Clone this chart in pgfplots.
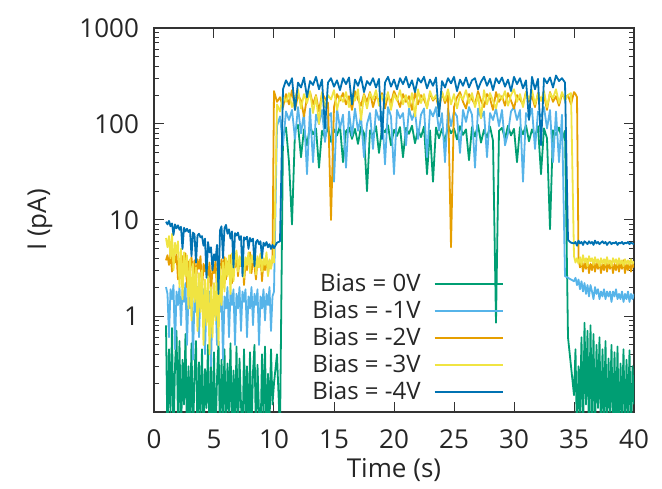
\documentclass[border=0pt]{standalone}
\usepackage{fontspec}
\setmainfont{Open Sans}
\usepackage{pgfplots}
\usepackage{pgfplotstable}
\pgfplotsset{compat=1.18}

\definecolor{c0}{HTML}{009E73}
\definecolor{c1}{HTML}{56B4E9}
\definecolor{c2}{HTML}{E69F00}
\definecolor{c3}{HTML}{F0E442}
\definecolor{c4}{HTML}{0072B2}

% t, then current for bias 0V, -1V, -2V, -3V, -4V
\pgfplotstableread{
t s0 s1 s2 s3 s4
1.000 0.80 2.0 3.8 6.5 9.6
1.125 0.05 1.7 4.3 5.2 9.0
1.250 0.45 0.6 3.4 6.8 9.8
1.375 0.10 1.9 4.6 4.0 8.6
1.500 0.75 1.5 2.9 7.2 9.2
1.625 0.05 2.1 4.0 3.0 7.0
1.750 0.30 0.45 3.6 5.8 9.0
1.875 0.70 1.8 4.4 4.5 8.2
2.000 0.08 1.3 2.4 6.0 8.8
2.125 0.55 2.0 3.9 2.0 7.9
2.250 0.05 0.8 3.2 5.0 8.5
2.375 0.35 1.9 4.2 1.5 5.0
2.500 0.12 1.4 3.0 4.6 8.3
2.625 0.65 2.2 4.5 2.6 7.6
2.750 0.05 0.5 2.0 4.3 8.1
2.875 0.30 1.7 3.7 1.2 7.5
3.000 0.07 1.2 3.3 3.9 7.9
3.125 0.52 1.9 4.1 0.9 4.2
3.250 0.05 0.35 2.7 3.5 7.4
3.375 0.25 1.6 3.8 1.4 7.1
3.500 0.55 1.1 2.2 3.2 3.6
3.625 0.05 2.0 3.9 0.7 6.9
3.750 0.33 0.6 3.1 2.8 7.2
3.875 0.09 1.8 4.2 1.1 6.6
4.000 0.45 1.3 1.8 3.0 6.8
4.125 0.05 1.9 3.5 0.5 5.4
4.250 0.28 0.4 2.9 2.4 6.4
4.375 0.11 1.5 3.8 0.8 2.5
4.500 0.50 1.1 2.5 2.6 5.9
4.625 0.05 1.8 3.6 0.4 4.6
4.750 0.30 0.3 1.6 2.0 5.2
4.875 0.06 1.4 3.3 0.6 3.0
5.000 0.42 1.0 2.8 2.2 4.4
5.125 0.05 1.7 3.7 0.9 3.8
5.250 0.22 0.5 1.9 2.9 5.5
5.375 0.55 1.5 3.4 0.5 1.7
5.500 0.05 1.1 2.6 3.3 7.8
5.625 0.35 1.9 3.9 1.3 8.6
5.750 0.08 0.35 3.1 3.6 4.0
5.875 0.45 1.6 4.1 1.8 8.2
6.000 0.05 1.2 2.4 4.0 8.9
6.125 0.32 2.0 3.7 2.6 7.2
6.250 0.10 0.6 3.0 4.3 8.0
6.375 0.52 1.8 4.3 1.7 6.4
6.500 0.05 1.3 2.2 4.5 7.6
6.625 0.27 1.9 3.8 2.3 3.2
6.750 0.07 0.5 3.2 3.8 7.3
6.875 0.48 1.7 4.4 4.8 6.9
7.000 0.05 1.2 2.6 2.9 7.4
7.125 0.36 2.0 3.9 4.2 6.2
7.250 0.12 0.7 3.3 3.3 6.8
7.375 0.05 1.8 4.5 4.9 2.6
7.500 0.45 1.4 2.1 2.5 6.6
7.625 0.09 1.9 3.6 4.1 6.3
7.750 0.30 0.6 3.0 3.4 6.7
7.875 0.05 1.6 4.2 4.6 5.0
8.000 0.42 1.2 4.6 2.8 6.5
8.125 0.06 2.0 2.8 4.3 6.0
8.250 0.26 0.8 3.9 3.6 6.4
8.375 0.50 1.7 3.3 5.0 3.3
8.500 0.05 1.3 2.4 2.7 5.9
8.625 0.31 1.9 4.0 4.2 6.2
8.750 0.10 0.5 3.4 3.2 5.6
8.875 0.05 1.6 4.3 4.5 6.0
9.000 0.40 1.2 2.3 2.9 4.0
9.125 0.08 1.9 3.7 4.0 5.8
9.250 0.48 0.9 3.0 3.4 5.4
9.375 0.05 1.7 4.1 4.6 5.9
9.500 0.25 1.3 2.7 2.6 5.2
9.625 0.07 2.0 3.8 3.9 5.6
9.750 0.45 0.7 3.2 3.1 5.0
9.875 0.12 1.6 4.0 4.2 5.5
10.000 0.20 1.8 220 3.6 5.1
10.25 0.40 95 170 160 5.8
10.50 0.06 120 190 135 6.0
10.75 75 60 150 200 230
11.00 92 135 205 170 285
11.25 40 110 160 210 250
11.50 9 140 225 150 300
11.75 85 70 140 190 140
12.00 98 150 200 230 270
12.25 45 80 175 145 240
12.50 88 130 120 205 305
12.75 60 30 190 165 190
13.00 95 145 215 220 280
13.25 78 40 160 130 255
13.50 90 125 200 195 310
13.75 35 100 135 100 230
14.00 85 140 210 215 290
14.25 72 65 185 150 90
14.50 93 120 165 200 270
14.75 65 130 10 180 300
15.00 88 25 150 225 245
15.25 76 145 205 140 285
15.50 96 90 175 195 225
15.75 40 125 210 170 300
16.00 84 35 160 215 260
16.25 92 135 195 150 305
16.50 70 75 140 205 160
16.75 89 145 220 175 290
17.00 62 85 180 230 250
17.25 94 120 155 110 310
17.50 80 45 205 200 215
17.75 20 100 170 145 280
18.00 86 130 215 210 255
18.25 74 55 150 180 300
18.50 95 140 195 225 240
18.75 50 110 175 155 295
19.00 90 135 210 200 70
19.25 82 38 145 170 270
19.50 97 150 200 215 310
19.75 60 120 165 140 245
20.00 87 30 220 205 290
20.25 75 140 185 175 230
20.50 93 115 150 225 300
20.75 45 130 205 160 260
21.00 91 60 170 200 310
21.25 79 145 195 150 240
21.50 96 110 140 210 285
21.75 63 135 215 120 215
22.00 88 70 160 230 300
22.25 73 125 200 165 270
22.50 94 145 180 205 310
22.75 30 45 150 145 235
23.00 86 140 210 220 290
23.25 25 120 175 180 250
23.50 92 150 195 200 305
23.75 71 85 140 155 120
24.00 89 130 215 215 280
24.25 65 40 165 175 240
24.50 97 145 200 230 300
24.75 80 95 5.2 160 265
25.00 90 135 150 205 310
25.25 69 120 190 145 220
25.50 95 50 215 200 290
25.75 77 140 170 180 250
26.00 88 105 145 225 305
26.25 42 150 205 165 240
26.50 93 125 180 210 285
26.75 74 35 160 150 300
27.00 98 145 220 200 230
27.25 64 115 175 115 275
27.50 87 135 150 225 310
27.75 72 45 205 160 250
28.00 94 130 185 210 295
28.25 67 110 140 175 225
28.50 0.85 145 215 145 300
28.75 85 95 170 205 265
29.00 91 140 195 180 305
29.25 70 60 155 220 245
29.50 96 80 210 155 290
29.75 76 135 175 200 220
30.00 89 150 145 230 310
30.25 40 110 200 170 260
30.50 93 140 180 205 300
30.75 78 25 160 150 235
31.00 97 130 215 215 285
31.25 66 115 170 180 110
31.50 88 145 195 225 310
31.75 74 55 150 160 230
32.00 95 135 210 205 295
32.25 30 120 175 175 60
32.50 90 150 200 220 300
32.75 71 90 140 150 265
33.00 8 140 215 210 305
33.25 86 40 170 185 240
33.50 77 135 195 230 320
33.75 92 40 155 165 280
34.00 68 125 205 215 300
34.25 85 2.6 185 175 270
34.50 0.6 2.5 200 200 6.2
34.75 0.3 2.4 160 210 5.8
35.000 0.15 2.3 215 4.2 5.7
35.125 0.45 2.5 205 3.6 5.9
35.250 0.05 2.1 190 4.0 5.4
35.375 0.30 2.4 4.0 3.5 6.1
35.500 0.10 1.9 3.2 4.1 5.7
35.625 0.60 2.3 3.8 3.4 5.9
35.750 0.05 1.8 2.9 4.3 5.5
35.875 0.85 2.2 3.6 3.6 6.0
36.000 0.12 1.7 3.1 4.0 5.8
36.125 0.70 2.1 3.9 3.3 5.6
36.250 0.05 1.6 2.8 4.2 6.0
36.375 0.80 2.1 3.5 3.7 5.7
36.500 0.08 1.8 3.0 4.0 5.9
36.625 0.65 1.5 3.8 3.4 5.5
36.750 0.05 2.0 2.9 4.1 6.1
36.875 0.50 1.7 3.6 3.6 5.7
37.000 0.11 1.9 3.1 3.9 5.9
37.125 0.60 1.5 3.7 3.3 5.6
37.250 0.05 1.8 2.8 4.0 5.8
37.375 0.45 1.6 3.5 3.5 6.0
37.500 0.07 1.9 3.0 3.9 5.7
37.625 0.55 1.5 3.8 3.4 5.9
37.750 0.05 1.8 2.9 4.1 5.5
37.875 0.36 1.6 3.6 3.5 5.8
38.000 0.10 1.8 3.1 3.8 5.9
38.125 0.50 1.4 3.7 3.3 5.6
38.250 0.05 1.8 2.8 4.0 5.8
38.375 0.42 1.6 3.5 3.6 5.7
38.500 0.06 1.9 3.0 3.9 5.9
38.625 0.48 1.5 3.7 3.4 5.5
38.750 0.05 1.7 2.9 4.0 5.8
38.875 0.32 1.5 3.6 3.5 5.7
39.000 0.09 1.8 3.1 3.8 5.9
39.125 0.45 1.4 3.8 3.3 5.6
39.250 0.05 1.7 2.8 3.9 5.8
39.375 0.35 1.5 3.5 3.5 5.7
39.500 0.08 1.8 3.0 3.8 5.9
39.625 0.44 1.4 3.7 3.4 5.6
39.750 0.05 1.7 2.9 3.9 5.8
39.875 0.30 1.5 3.5 3.5 5.7
40.000 0.12 1.7 3.2 3.7 5.6
}\data

\begin{document}
\begin{tikzpicture}
\path[use as bounding box] (-77pt,-38pt) rectangle (254pt,206pt);
\begin{axis}[
  at={(0,0)}, anchor=south west,
  scale only axis, width=240pt, height=192pt,
  xmin=0, xmax=40,
  ymode=log, ymin=0.1, ymax=1000,
  xtick={0,5,...,40},
  ytick={1,10,100,1000},
  yticklabels={1,10,100,1000},
  minor ytick={0.2,0.3,0.4,0.5,0.6,0.7,0.8,0.9,2,3,4,5,6,7,8,9,20,30,40,50,60,70,80,90,200,300,400,500,600,700,800,900},
  tick align=inside,
  major tick length=5pt, minor tick length=2.5pt,
  tick style={black!80, line width=0.5pt},
  axis line style={black!80, line width=0.7pt},
  /pgf/number format/assume math mode=true,
  tick label style={font=\fontsize{13}{15}\selectfont, text=black!85},
  yticklabel style={xshift=-4pt},
  xticklabel style={yshift=-5.5pt},
  xlabel={Time (s)}, ylabel={I (pA)},
  label style={font=\fontsize{13}{15}\selectfont, text=black!85},
  x label style={at={(axis description cs:0.5,-0.151)}, anchor=center},
  y label style={at={(axis description cs:-0.2375,0.5)}, anchor=center},
  legend cell align=right,
  legend plot pos=right,
  legend image code/.code={\draw[#1] (3pt,0pt) -- (37pt,0pt);},
  legend style={at={(axis description cs:0.728,0.016)}, anchor=south east,
    draw=none, fill=none, inner sep=0pt, outer sep=0pt, row sep=0pt,
    font=\fontsize{12}{14}\selectfont, text=black!85,
    nodes={inner sep=0.5pt, text height=10pt, text depth=2.5pt}},
  every axis plot/.append style={line width=0.9pt, line join=round},
]
\addplot[c0] table[x=t, y=s0] {\data};
\addplot[c1] table[x=t, y=s1] {\data};
\addplot[c2] table[x=t, y=s2] {\data};
\addplot[c3] table[x=t, y=s3] {\data};
\addplot[c4] table[x=t, y=s4] {\data};
\legend{Bias = 0V\kern6pt, Bias = -1V\kern6pt, Bias = -2V\kern6pt,
  Bias = -3V\kern6pt, Bias = -4V\kern6pt}
\end{axis}
\end{tikzpicture}
\end{document}
